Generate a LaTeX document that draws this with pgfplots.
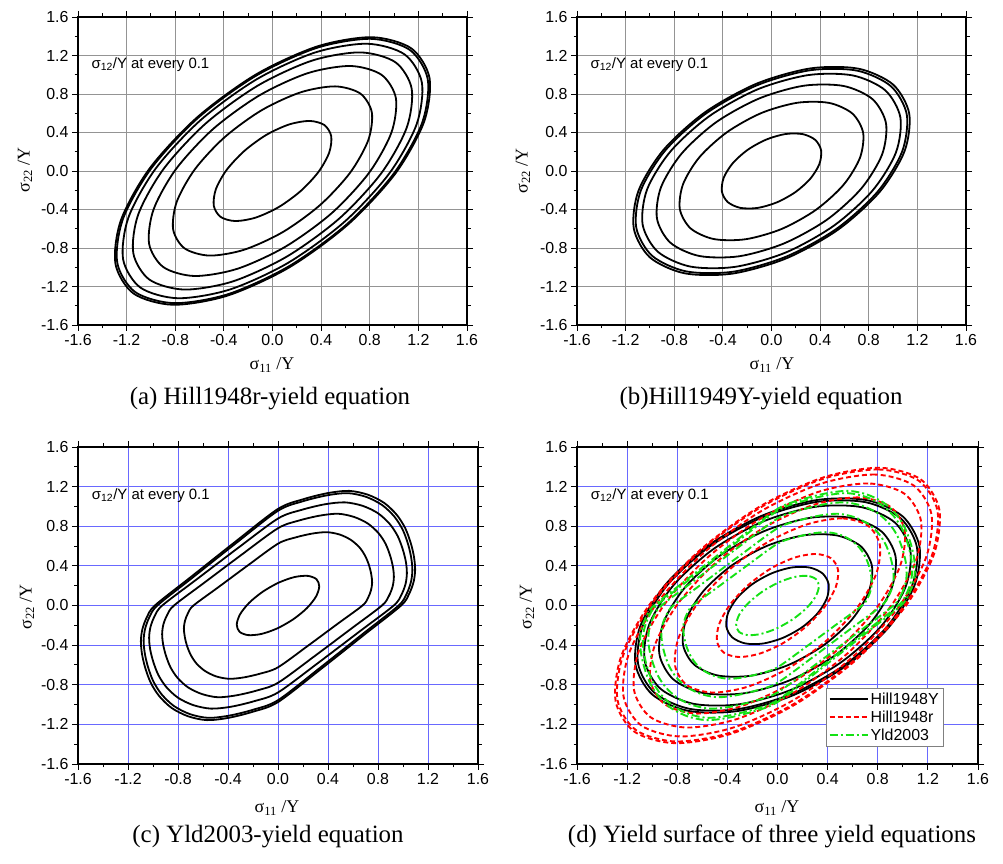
\documentclass[border=0pt]{standalone}
\usepackage{fontspec}
\setmainfont{Liberation Serif}
\setsansfont{Liberation Sans}
\usepackage{pgfplots}
\usepackage{pgfplotstable}
\pgfplotsset{compat=1.18}

\definecolor{gridblue}{RGB}{105,105,255}
\definecolor{ydgreen}{RGB}{20,225,20}

% ---------- Hill1948r contours, sigma12/Y = 0 ... 0.6 ----------
\pgfplotstableread{
x y
1.142 1.274
0.817 1.390
0.368 1.294
-0.137 1.002
-0.621 0.556
-1.011 0.026
-1.246 -0.508
-1.292 -0.964
-1.142 -1.274
-0.817 -1.390
-0.368 -1.294
0.137 -1.002
0.621 -0.556
1.011 -0.026
1.246 0.508
1.292 0.964
}\ra
\pgfplotstableread{
x y
1.128 1.259
0.807 1.373
0.364 1.279
-0.135 0.990
-0.614 0.550
-0.998 0.026
-1.231 -0.501
-1.277 -0.953
-1.128 -1.259
-0.807 -1.373
-0.364 -1.279
0.135 -0.990
0.614 -0.550
0.998 -0.026
1.231 0.501
1.277 0.953
}\rb
\pgfplotstableread{
x y
1.086 1.212
0.777 1.322
0.350 1.231
-0.130 0.953
-0.591 0.529
-0.961 0.025
-1.185 -0.483
-1.229 -0.917
-1.086 -1.212
-0.777 -1.322
-0.350 -1.231
0.130 -0.953
0.591 -0.529
0.961 -0.025
1.185 0.483
1.229 0.917
}\rc
\pgfplotstableread{
x y
1.012 1.129
0.724 1.232
0.326 1.147
-0.121 0.887
-0.550 0.493
-0.895 0.023
-1.104 -0.450
-1.145 -0.854
-1.012 -1.129
-0.724 -1.232
-0.326 -1.147
0.121 -0.887
0.550 -0.493
0.895 -0.023
1.104 0.450
1.145 0.854
}\rd
\pgfplotstableread{
x y
0.896 1.000
0.641 1.091
0.289 1.016
-0.107 0.786
-0.488 0.437
-0.793 0.021
-0.978 -0.398
-1.015 -0.757
-0.896 -1.000
-0.641 -1.091
-0.289 -1.016
0.107 -0.786
0.488 -0.437
0.793 -0.021
0.978 0.398
1.015 0.757
}\re
\pgfplotstableread{
x y
0.722 0.805
0.516 0.879
0.233 0.818
-0.087 0.633
-0.393 0.352
-0.639 0.017
-0.788 -0.321
-0.817 -0.609
-0.722 -0.805
-0.516 -0.879
-0.233 -0.818
0.087 -0.633
0.393 -0.352
0.639 -0.017
0.788 0.321
0.817 0.609
}\rf
\pgfplotstableread{
x y
0.427 0.477
0.306 0.520
0.138 0.484
-0.051 0.375
-0.232 0.208
-0.378 0.010
-0.466 -0.190
-0.483 -0.361
-0.427 -0.477
-0.306 -0.520
-0.138 -0.484
0.051 -0.375
0.232 -0.208
0.378 -0.010
0.466 0.190
0.483 0.361
}\rg

% ---------- Hill1948Y contours, sigma12/Y = 0 ... 0.5 ----------
\pgfplotstableread{
x y
1.000 0.898
0.715 1.063
0.321 1.066
-0.123 0.907
-0.547 0.610
-0.888 0.220
-1.094 -0.204
-1.133 -0.596
-1.000 -0.898
-0.715 -1.063
-0.321 -1.066
0.123 -0.907
0.547 -0.610
0.888 -0.220
1.094 0.204
1.133 0.596
}\ya
\pgfplotstableread{
x y
0.982 0.881
0.702 1.043
0.315 1.046
-0.120 0.890
-0.537 0.599
-0.872 0.216
-1.074 -0.200
-1.113 -0.585
-0.982 -0.881
-0.702 -1.043
-0.315 -1.046
0.120 -0.890
0.537 -0.599
0.872 -0.216
1.074 0.200
1.113 0.585
}\yb
\pgfplotstableread{
x y
0.935 0.839
0.668 0.993
0.300 0.996
-0.115 0.848
-0.511 0.570
-0.830 0.205
-1.023 -0.190
-1.060 -0.557
-0.935 -0.839
-0.668 -0.993
-0.300 -0.996
0.115 -0.848
0.511 -0.570
0.830 -0.205
1.023 0.190
1.060 0.557
}\yc
\pgfplotstableread{
x y
0.831 0.746
0.594 0.883
0.266 0.886
-0.102 0.753
-0.455 0.507
-0.738 0.183
-0.909 -0.169
-0.942 -0.495
-0.831 -0.746
-0.594 -0.883
-0.266 -0.886
0.102 -0.753
0.455 -0.507
0.738 -0.183
0.909 0.169
0.942 0.495
}\yd
\pgfplotstableread{
x y
0.665 0.597
0.475 0.707
0.213 0.709
-0.082 0.603
-0.364 0.405
-0.591 0.146
-0.727 -0.135
-0.754 -0.396
-0.665 -0.597
-0.475 -0.707
-0.213 -0.709
0.082 -0.603
0.364 -0.405
0.591 -0.146
0.727 0.135
0.754 0.396
}\ye
\pgfplotstableread{
x y
0.360 0.323
0.257 0.383
0.115 0.384
-0.044 0.326
-0.197 0.219
-0.320 0.079
-0.394 -0.073
-0.408 -0.215
-0.360 -0.323
-0.257 -0.383
-0.115 -0.384
0.044 -0.326
0.197 -0.219
0.320 -0.079
0.394 0.073
0.408 0.215
}\yf

% ---------- Yld2003 contours, sigma12/Y = 0 ... 0.5 ----------
\pgfplotstableread{
x y
0.985 0.000
1.050 0.120
1.085 0.240
1.097 0.360
1.088 0.490
1.062 0.630
1.018 0.780
0.950 0.915
0.850 1.035
0.720 1.118
0.570 1.157
0.400 1.135
0.200 1.072
0.000 0.975
-0.350 0.635
-0.700 0.285
-0.985 0.000
-1.050 -0.120
-1.085 -0.240
-1.097 -0.360
-1.088 -0.490
-1.062 -0.630
-1.018 -0.780
-0.950 -0.915
-0.850 -1.035
-0.720 -1.118
-0.570 -1.157
-0.400 -1.135
-0.200 -1.072
0.000 -0.975
0.350 -0.635
0.700 -0.285
}\ca
\pgfplotstableread{
x y
0.965 0.000
1.029 0.118
1.063 0.235
1.075 0.353
1.066 0.480
1.041 0.617
0.998 0.764
0.931 0.897
0.833 1.014
0.706 1.096
0.559 1.134
0.392 1.112
0.196 1.051
0.000 0.956
-0.343 0.622
-0.686 0.279
-0.965 0.000
-1.029 -0.118
-1.063 -0.235
-1.075 -0.353
-1.066 -0.480
-1.041 -0.617
-0.998 -0.764
-0.931 -0.897
-0.833 -1.014
-0.706 -1.096
-0.559 -1.134
-0.392 -1.112
-0.196 -1.051
0.000 -0.956
0.343 -0.622
0.686 -0.279
}\cb
\pgfplotstableread{
x y
0.926 0.000
0.987 0.108
1.020 0.216
1.031 0.324
1.023 0.441
0.998 0.567
0.957 0.702
0.893 0.824
0.799 0.932
0.677 1.006
0.536 1.041
0.376 1.022
0.188 0.965
0.000 0.878
-0.329 0.572
-0.658 0.257
-0.926 0.000
-0.987 -0.108
-1.020 -0.216
-1.031 -0.324
-1.023 -0.441
-0.998 -0.567
-0.957 -0.702
-0.893 -0.824
-0.799 -0.932
-0.677 -1.006
-0.536 -1.041
-0.376 -1.022
-0.188 -0.965
0.000 -0.878
0.329 -0.572
0.658 -0.257
}\cc
\pgfplotstableread{
x y
0.832 0.000
0.887 0.096
0.917 0.192
0.927 0.288
0.919 0.392
0.897 0.504
0.860 0.624
0.803 0.732
0.718 0.828
0.608 0.894
0.482 0.926
0.338 0.908
0.169 0.858
0.000 0.780
-0.296 0.508
-0.592 0.228
-0.832 0.000
-0.887 -0.096
-0.917 -0.192
-0.927 -0.288
-0.919 -0.392
-0.897 -0.504
-0.860 -0.624
-0.803 -0.732
-0.718 -0.828
-0.608 -0.894
-0.482 -0.926
-0.338 -0.908
-0.169 -0.858
0.000 -0.780
0.296 -0.508
0.592 -0.228
}\cd
\pgfplotstableread{
x y
0.676 0.000
0.720 0.077
0.744 0.154
0.753 0.230
0.746 0.314
0.729 0.403
0.698 0.499
0.652 0.586
0.583 0.662
0.494 0.716
0.391 0.740
0.274 0.726
0.137 0.686
0.000 0.624
-0.240 0.406
-0.480 0.182
-0.676 0.000
-0.720 -0.077
-0.744 -0.154
-0.753 -0.230
-0.746 -0.314
-0.729 -0.403
-0.698 -0.499
-0.652 -0.586
-0.583 -0.662
-0.494 -0.716
-0.391 -0.740
-0.274 -0.726
-0.137 -0.686
0.000 -0.624
0.240 -0.406
0.480 -0.182
}\ce
\pgfplotstableread{
x y
0.308 0.265
0.238 0.299
0.132 0.287
0.006 0.231
-0.121 0.140
-0.230 0.028
-0.303 -0.088
-0.330 -0.191
-0.308 -0.265
-0.238 -0.299
-0.132 -0.287
-0.006 -0.231
0.121 -0.140
0.230 -0.028
0.303 0.088
0.330 0.191
}\cf

\pgfplotsset{
  panel/.style={
    scale only axis, anchor=south west,
    xmin=-1.6, xmax=1.6, ymin=-1.6, ymax=1.6,
    xtick={-1.6,-1.2,-0.8,-0.4,0,0.4,0.8,1.2,1.6},
    ytick={-1.6,-1.2,-0.8,-0.4,0,0.4,0.8,1.2,1.6},
    xticklabels={-1.6,-1.2,-0.8,-0.4,0.0,0.4,0.8,1.2,1.6},
    yticklabels={-1.6,-1.2,-0.8,-0.4,0.0,0.4,0.8,1.2,1.6},
    minor x tick num=1, minor y tick num=1,
    tick align=outside,
    major tick length=6bp, minor tick length=3.5bp,
    tick style={black, line width=0.9bp},
    tick label style={font=\sffamily\fontsize{16}{16}\selectfont},
    axis line style={line width=1.2bp},
    grid=major,
  },
  graygrid/.style={major grid style={draw=black!42, line width=0.9bp}},
  bluegrid/.style={major grid style={draw=gridblue, line width=1bp}},
  hy/.style={black, line width=1.8bp, smooth cycle},
  hr/.style={red, line width=1.9bp, dash pattern=on 5bp off 3bp, smooth cycle},
  yl/.style={ydgreen, line width=1.9bp, dash pattern=on 8bp off 3bp on 2bp off 3bp, smooth cycle},
}

\newcommand{\note}{\node[anchor=west, font=\sffamily\fontsize{15}{17}\selectfont, inner sep=0pt] at (axis cs:-1.49,1.11) {σ\textsubscript{12}/Y at every 0.1};}

\begin{document}
\begin{tikzpicture}[x=1bp, y=1bp]
\useasboundingbox (0,0) rectangle (1003,864);
\coordinate (pa) at (78,539);
\coordinate (pb) at (577,539);
\coordinate (pc) at (78,100);
\coordinate (pd) at (577,100);

% (a) Hill1948r
\begin{axis}[panel, graygrid, at={(pa)}, width=389bp, height=308bp]
  \addplot[hy] table {\ra};
  \addplot[hy] table {\rb};
  \addplot[hy] table {\rc};
  \addplot[hy] table {\rd};
  \addplot[hy] table {\re};
  \addplot[hy] table {\rf};
  \addplot[hy] table {\rg};
  \note
\end{axis}

% (b) Hill1948Y
\begin{axis}[panel, graygrid, at={(pb)}, width=389bp, height=308bp]
  \addplot[hy] table {\ya};
  \addplot[hy] table {\yb};
  \addplot[hy] table {\yc};
  \addplot[hy] table {\yd};
  \addplot[hy] table {\ye};
  \addplot[hy] table {\yf};
  \note
\end{axis}

% (c) Yld2003
\begin{axis}[panel, bluegrid, at={(pc)}, width=400bp, height=317bp]
  \addplot[hy] table {\ca};
  \addplot[hy] table {\cb};
  \addplot[hy] table {\cc};
  \addplot[hy] table {\cd};
  \addplot[hy] table {\ce};
  \addplot[hy] table {\cf};
  \note
\end{axis}

% (d) all three criteria
\begin{axis}[panel, bluegrid, at={(pd)}, width=401bp, height=317bp,
    legend style={at={(0.9125,0.057)}, anchor=south east, draw=black!50,
      fill=white, inner sep=2bp, row sep=1bp,
      font=\sffamily\fontsize{16}{18}\selectfont},
    legend cell align=left,
    legend image code/.code={\draw[#1, line width=2bp] (0bp,0bp) -- (38bp,0bp);}]
  \addplot[hy] table {\ya}; \addlegendentry{Hill1948Y}
  \addplot[hy, forget plot] table {\yb};
  \addplot[hy, forget plot] table {\yc};
  \addplot[hy, forget plot] table {\yd};
  \addplot[hy, forget plot] table {\ye};
  \addplot[hy, forget plot] table {\yf};
  \addplot[hr] table {\ra}; \addlegendentry{Hill1948r}
  \addplot[hr, forget plot] table {\rb};
  \addplot[hr, forget plot] table {\rc};
  \addplot[hr, forget plot] table {\rd};
  \addplot[hr, forget plot] table {\re};
  \addplot[hr, forget plot] table {\rf};
  \addplot[hr, forget plot] table {\rg};
  \addplot[yl] table {\ca}; \addlegendentry{Yld2003}
  \addplot[yl, forget plot] table {\cb};
  \addplot[yl, forget plot] table {\cc};
  \addplot[yl, forget plot] table {\cd};
  \addplot[yl, forget plot] table {\ce};
  \addplot[yl, forget plot] table {\cf};
  \note
\end{axis}

% axis titles
\begin{scope}[every node/.style={font=\fontsize{18}{20}\selectfont, inner sep=0pt}]
  \node at (272,499) {σ\textsubscript{11} /Y};
  \node at (772,499) {σ\textsubscript{11} /Y};
  \node at (277,56) {σ\textsubscript{11} /Y};
  \node at (777,56) {σ\textsubscript{11} /Y};
  \node[rotate=90] at (25,694) {σ\textsubscript{22} /Y};
  \node[rotate=90] at (523,693) {σ\textsubscript{22} /Y};
  \node[rotate=90] at (27,257) {σ\textsubscript{22} /Y};
  \node[rotate=90] at (527,257) {σ\textsubscript{22} /Y};
\end{scope}

% captions
\begin{scope}[every node/.style={font=\fontsize{25}{28}\selectfont, inner sep=0pt, anchor=base}]
  \node at (270,459) {(a) Hill1948r-yield equation};
  \node at (761,459) {(b)Hill1949Y-yield equation};
  \node at (268,21) {(c) Yld2003-yield equation};
  \node at (772,21) {(d) Yield surface of three yield equations};
\end{scope}
\end{tikzpicture}
\end{document}
